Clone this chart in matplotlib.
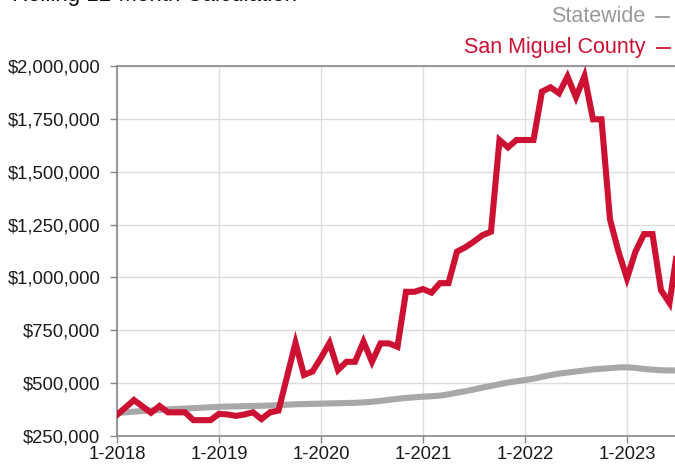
import numpy as np
import matplotlib
matplotlib.use("Agg")
import matplotlib.pyplot as plt
from matplotlib.ticker import FuncFormatter

plt.rcParams["font.family"] = ["Liberation Sans", "DejaVu Sans"]

# monthly rolling 12-month median price, Jan 2018 .. Jul 2023
san_miguel = [
    350000, 385000, 420000, 390000, 360000, 392000, 362000, 362000, 362000, 325000,
    325000, 325000, 355000, 352000, 345000, 352000, 362000, 330000, 362000, 370000,
    530000, 690000, 539000, 555000, 620000, 690000, 562000, 601000, 601000, 696000,
    601000, 688000, 688000, 672000, 932000, 932000, 945000, 928000, 973000, 973000,
    1122000, 1143000, 1170000, 1200000, 1216000, 1650000, 1615000, 1650000, 1650000, 1650000,
    1879000, 1899000, 1871000, 1950000, 1852000, 1952000, 1748000, 1748000, 1275000, 1122000,
    996000, 1122000, 1205000, 1205000, 940000, 879000, 1150000,
]
statewide = [
    358000, 362000, 365000, 368000, 371000, 373000, 376000, 378000, 380000, 382000,
    384000, 386000, 388000, 389000, 390000, 391000, 392000, 393000, 394000, 396000,
    398000, 400000, 401000, 402000, 403000, 404000, 405000, 406000, 407000, 409000,
    412000, 416000, 421000, 426000, 430000, 433000, 436000, 438000, 441000, 447000,
    455000, 462000, 470000, 479000, 487000, 495000, 503000, 509000, 515000, 521000,
    530000, 538000, 545000, 550000, 555000, 560000, 565000, 568000, 571000, 574000,
    575000, 572000, 567000, 564000, 561000, 560000, 560000,
]
tick_months = [0, 12, 24, 36, 48, 60]
tick_labels = ["1-2018", "1-2019", "1-2020", "1-2021", "1-2022", "1-2023"]
y_ticks = [250000, 500000, 750000, 1000000, 1250000, 1500000, 1750000, 2000000]

RED = "#CC1133"
GRAY = "#A8A8A8"

fig = plt.figure(figsize=(6.75, 4.68), dpi=100)
ax = fig.add_axes([117 / 675, 1 - 436 / 468, 1 - 117 / 675, (436 - 66) / 468])

months = np.arange(len(san_miguel))
ax.plot(months, statewide, color=GRAY, lw=4.4, solid_capstyle="round", zorder=3)
ax.plot(months, san_miguel, color=RED, lw=4.4, solid_joinstyle="miter", zorder=4)

ax.set_xlim(0, 65.65)
ax.set_ylim(250000, 2000000)
ax.set_xticks(tick_months)
ax.set_xticklabels(tick_labels)
ax.set_yticks(y_ticks)
ax.yaxis.set_major_formatter(FuncFormatter(lambda v, p: f"${v:,.0f}"))

ax.grid(True, color="#DDDDDD", lw=1.0)
ax.set_axisbelow(True)
for side in ["left", "bottom", "top"]:
    ax.spines[side].set_color("#888888")
    ax.spines[side].set_linewidth(1.2)
ax.spines["right"].set_visible(False)
ax.tick_params(axis="both", colors="#888888", length=5, width=1, labelcolor="#1a1a1a")
ax.tick_params(axis="y", labelsize=13.3, pad=7)
ax.tick_params(axis="x", labelsize=13.3, pad=2.5)

fig.text(0.018, 1 - 0.5 / 468, "Rolling 12-Month Calculation", fontsize=16,
         color="#111111", va="baseline", ha="left")

fig.text(645 / 675, 1 - 17 / 468, "Statewide", fontsize=15.5, color="#999999",
         ha="right", va="center")
fig.text(645 / 675, 1 - 48 / 468, "San Miguel County", fontsize=15.5, color=RED,
         ha="right", va="center")
fig.add_artist(plt.Line2D([656 / 675, 669 / 675], [1 - 17 / 468] * 2, color="#999999", lw=1.3))
fig.add_artist(plt.Line2D([657 / 675, 670 / 675], [1 - 48 / 468] * 2, color=RED, lw=1.3))

fig.savefig("out.png", dpi=100)
